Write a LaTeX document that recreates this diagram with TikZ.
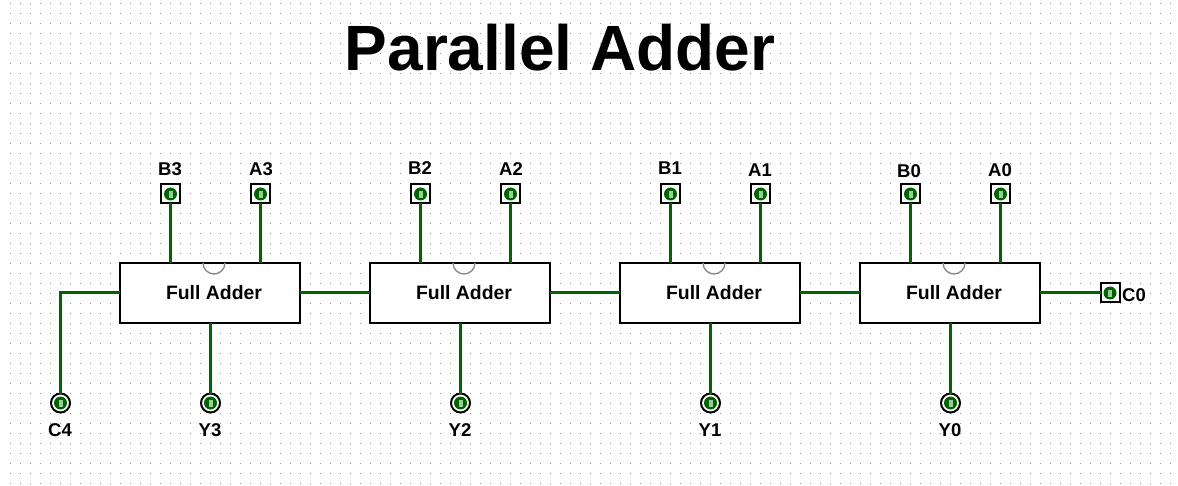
\documentclass[tikz,border=0pt]{standalone}
\usepackage{fontspec}
\setmainfont{Liberation Sans}
\definecolor{wiregreen}{RGB}{0,100,0}
\definecolor{gridgray}{RGB}{150,150,150}
\definecolor{notchgray}{RGB}{140,140,140}
\definecolor{valgreen}{RGB}{0,128,0}
\tikzset{
  x=1pt,y=-1pt,
  wire/.style={draw=wiregreen,line width=3pt},
  adderbox/.style={draw=black,line width=2pt,fill=white,minimum width=180pt,minimum height=60pt,inner sep=0pt,outer sep=0pt},
  addertext/.style={inner sep=0pt,font=\bfseries\fontsize{19.4}{21}\selectfont},
  inpin/.style={draw=black,line width=2pt,fill=white,minimum size=19pt,inner sep=0pt,outer sep=0pt},
  outpin/.style={circle,draw=black,line width=2pt,fill=white,minimum size=19pt,inner sep=0pt,outer sep=0pt},
  pinlabel/.style={inner sep=0pt,font=\bfseries\fontsize{18.5}{20}\selectfont},
  titletext/.style={inner sep=0pt,font=\bfseries\fontsize{64}{70}\selectfont},
  notch/.style={draw=notchgray,line width=1.4pt},
  valdot/.style={fill=wiregreen},
  valbar/.style={fill=white!60!valgreen,draw=wiregreen,line width=0.8pt}
}
\newcommand{\pinvalue}[1]{%
  \fill[valdot] (#1) circle[radius=6.5pt];
  \filldraw[valbar] ([xshift=-2.6pt,yshift=-4pt]#1) rectangle ([xshift=2.6pt,yshift=4pt]#1);
}
\begin{document}
\begin{tikzpicture}
\useasboundingbox (0,0) rectangle (1178,486);
\fill[white] (0,0) rectangle (1178,486);
\foreach \i in {1,...,117}{\foreach \j in {0,...,48}{
  \fill[gridgray] (10*\i,3+10*\j) rectangle +(1,1);
}}
\node[titletext] (title) at (560,48) {Parallel Adder};
% adders
\node[adderbox] (fa3) at (210,293) {};
\node[adderbox] (fa2) at (460,293) {};
\node[adderbox] (fa1) at (710,293) {};
\node[adderbox] (fa0) at (950,293) {};
\foreach \b in {fa3,fa2,fa1,fa0}{
  \node[addertext] at ([xshift=4pt,yshift=0.5pt]\b.center) {Full Adder};
  \draw[notch] ([xshift=-7pt]\b.north) arc[start angle=180,end angle=360,x radius=11pt,y radius=11pt];
}
% input pins
\node[inpin] (b3) at (170.5,194) {};
\node[inpin] (a3) at (260.5,194) {};
\node[inpin] (b2) at (420.5,194) {};
\node[inpin] (a2) at (510.5,194) {};
\node[inpin] (b1) at (670.5,194) {};
\node[inpin] (a1) at (760.5,194) {};
\node[inpin] (b0) at (910.5,194) {};
\node[inpin] (a0) at (1000.5,194) {};
\node[inpin] (c0) at (1110,293) {};
% output pins
\node[outpin] (c4) at (60.5,403) {};
\node[outpin] (y3) at (210.5,403) {};
\node[outpin] (y2) at (460.5,403) {};
\node[outpin] (y1) at (710.5,403) {};
\node[outpin] (y0) at (950.5,403) {};
% wires
\foreach \p/\b in {b3/fa3,a3/fa3,b2/fa2,a2/fa2,b1/fa1,a1/fa1,b0/fa0,a0/fa0}{
  \draw[wire] (\p.south) -- (\p.south |- \b.north);
}
\foreach \p/\b in {y3/fa3,y2/fa2,y1/fa1,y0/fa0}{
  \draw[wire] (\b.south -| \p.north) -- (\p.north);
}
\draw[wire] (fa2.west) -- (fa3.east);
\draw[wire] (fa1.west) -- (fa2.east);
\draw[wire] (fa0.west) -- (fa1.east);
\draw[wire] (c0.west) -- (fa0.east);
\draw[wire,line join=miter] (fa3.west) -- (c4.north |- fa3.west) -- (c4.north);
\foreach \p in {b3,a3,b2,a2,b1,a1,b0,a0,c0,c4,y3,y2,y1,y0}{\pinvalue{\p.center}}
% labels
\node[pinlabel] (lb3) at (170,169) {B3};
\node[pinlabel] (la3) at (261,169) {A3};
\node[pinlabel] (lb2) at (420,168) {B2};
\node[pinlabel] (la2) at (511,169) {A2};
\node[pinlabel] (lb1) at (670,168) {B1};
\node[pinlabel] (la1) at (760,170) {A1};
\node[pinlabel] (lb0) at (909,171) {B0};
\node[pinlabel] (la0) at (1000,170) {A0};
\node[pinlabel] (lc0) at (1134,295) {C0};
\node[pinlabel] (lc4) at (60,430) {C4};
\node[pinlabel] (ly3) at (210,430) {Y3};
\node[pinlabel] (ly2) at (460,430) {Y2};
\node[pinlabel] (ly1) at (710,430) {Y1};
\node[pinlabel] (ly0) at (950,430) {Y0};
\end{tikzpicture}
\end{document}
